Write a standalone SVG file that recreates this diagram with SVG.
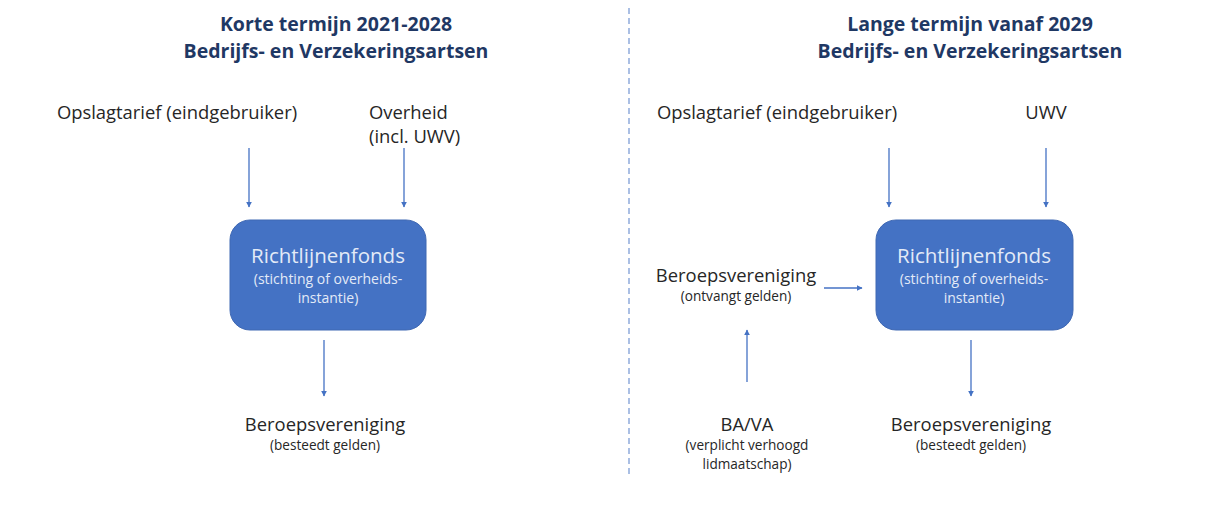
<svg xmlns="http://www.w3.org/2000/svg" width="1230" height="508" viewBox="0 0 1230 508">
<style>
text{font-family:"Open Sans","Liberation Sans",sans-serif;text-anchor:middle;fill:#262626}
.t{font-weight:bold;fill:#1f3864;font-size:19.5px}
.l{font-size:18.4px}
.s{font-size:13.6px}
.st{text-anchor:start}
.bt{fill:#e3eaf7;font-size:20.5px}
.bs{fill:#e3eaf7;font-size:14px}
.box{fill:#4472c4;stroke:#3f68b3;stroke-width:1}
.c{stroke:#4472c4;stroke-width:1.3;fill:none;marker-end:url(#ah)}
</style>
<defs>
<marker id="ah" viewBox="0 0 10 10" refX="9" refY="5" markerWidth="6" markerHeight="6" orient="auto" markerUnits="userSpaceOnUse">
<path d="M0,0 L10,5 L0,10 z" fill="#4472c4"/>
</marker>
</defs>
<rect width="1230" height="508" fill="#fff"/>
<line x1="629" y1="8" x2="629" y2="478" stroke="#8faadc" stroke-width="1.5" stroke-dasharray="6,4"/>
<g id="title-left">
<text class="t" x="336" y="31">Korte termijn 2021-2028</text>
<text class="t" x="336" y="58">Bedrijfs- en Verzekeringsartsen</text>
</g>
<g id="title-right">
<text class="t" x="970" y="31">Lange termijn vanaf 2029</text>
<text class="t" x="970" y="58">Bedrijfs- en Verzekeringsartsen</text>
</g>
<g id="opslag-left"><text class="l" x="177" y="119">Opslagtarief (eindgebruiker)</text></g>
<g id="overheid"><text class="l st" x="369" y="119">Overheid</text><text class="l st" x="369" y="143">(incl. UWV)</text></g>
<g id="fonds-left">
<rect class="box" x="230" y="220" width="196" height="110" rx="20"/>
<text class="bt" x="328" y="263">Richtlijnenfonds</text>
<text class="bs" x="328" y="284">(stichting of overheids-</text>
<text class="bs" x="328" y="303">instantie)</text>
</g>
<g id="bv-left"><text class="l" x="325" y="431">Beroepsvereniging</text><text class="s" x="325" y="450">(besteedt gelden)</text></g>
<g id="opslag-right"><text class="l" x="777" y="119">Opslagtarief (eindgebruiker)</text></g>
<g id="uwv"><text class="l" x="1046" y="119">UWV</text></g>
<g id="bv-ontvangt"><text class="l" x="736" y="282">Beroepsvereniging</text><text class="s" x="736" y="301">(ontvangt gelden)</text></g>
<g id="fonds-right">
<rect class="box" x="876" y="220" width="197" height="110" rx="20"/>
<text class="bt" x="974" y="263">Richtlijnenfonds</text>
<text class="bs" x="974" y="284">(stichting of overheids-</text>
<text class="bs" x="974" y="303">instantie)</text>
</g>
<g id="bava"><text class="l" x="747" y="431">BA/VA</text><text class="s" x="747" y="450">(verplicht verhoogd</text><text class="s" x="747" y="469">lidmaatschap)</text></g>
<g id="bv-right"><text class="l" x="971" y="431">Beroepsvereniging</text><text class="s" x="971" y="450">(besteedt gelden)</text></g>
<g id="connectors">
<line class="c" x1="249" y1="148" x2="249" y2="207"/>
<line class="c" x1="404" y1="148" x2="404" y2="207"/>
<line class="c" x1="324" y1="340" x2="324" y2="396"/>
<line class="c" x1="889" y1="148" x2="889" y2="207"/>
<line class="c" x1="1046" y1="148" x2="1046" y2="207"/>
<line class="c" x1="824" y1="288" x2="862" y2="288"/>
<line class="c" x1="747" y1="382" x2="747" y2="330"/>
<line class="c" x1="971" y1="340" x2="971" y2="396"/>
</g>
</svg>
